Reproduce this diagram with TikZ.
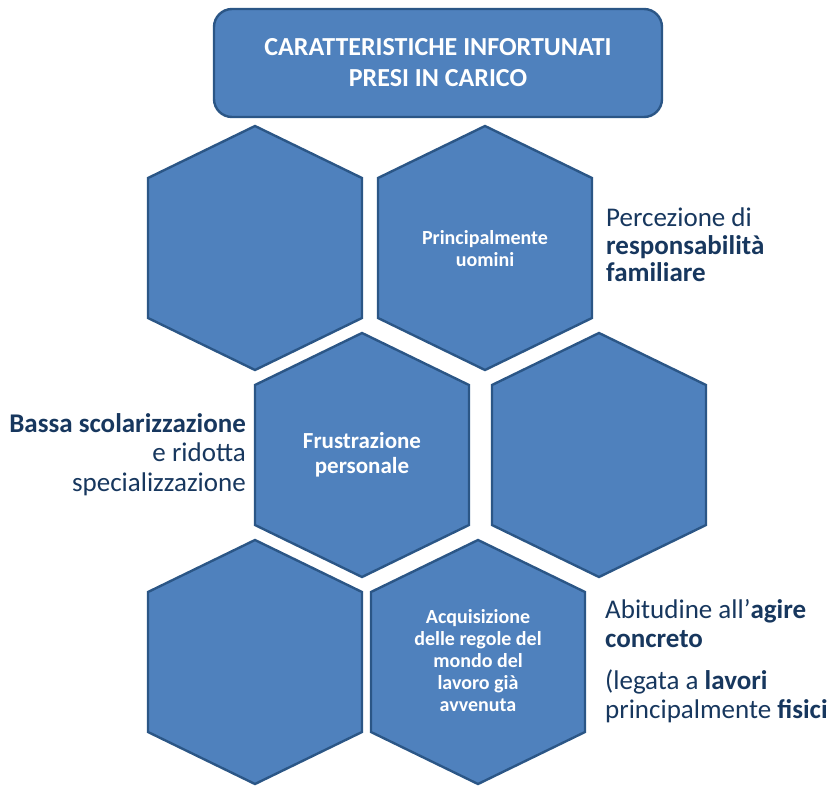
\documentclass[tikz,border=0pt]{standalone}
\usepackage{fontspec}
\setmainfont{Carlito}
\usepackage{xcolor}
\usepackage{tikz}
\usetikzlibrary{positioning}
\definecolor{cell}{HTML}{4F81BD}
\definecolor{celledge}{HTML}{2B5686}
\definecolor{ink}{HTML}{17375E}
\tikzset{
  hexshape/.style={draw=celledge, fill=cell, line width=2.4pt, line join=miter},
  hexcell/.pic={\path[hexshape] (0,-122) -- (107,-70) -- (107,70) -- (0,122)
                -- (-107,70) -- (-107,-70) -- cycle;},
  titlebox/.style={draw=celledge, fill=cell, line width=2.4pt, rounded corners=18pt,
                   minimum width=448pt, minimum height=108pt, align=center,
                   text=white, font=\fontsize{26}{31}\selectfont\bfseries},
  hexlbl/.style={text=white, align=center, inner sep=0pt},
  side/.style={text=ink, inner sep=0pt, font=\fontsize{27}{29.5}\selectfont},
}

\begin{document}
\begin{tikzpicture}[x=1pt, y=-1pt]
\useasboundingbox (0,0) rectangle (833,785);

% ---- TITLE ----
\node[titlebox] (title) at (438,63) {CARATTERISTICHE INFORTUNATI\\PRESI IN CARICO};

% ---- ROW 1 ----
\pic at (255,248) {hexcell};
\pic at (485,248) {hexcell};
\node[hexlbl, font=\fontsize{20}{22}\selectfont\bfseries] (uomini) at (485,249)
  {Principalmente\\uomini};

% ---- ROW 2 ----
\pic at (362,455) {hexcell};
\pic at (599,455) {hexcell};
\node[hexlbl, font=\fontsize{23}{25}\selectfont\bfseries] (frustr) at (362,455)
  {Frustrazione\\personale};

% ---- ROW 3 ----
\pic at (255,662) {hexcell};
\pic at (478,662) {hexcell};
\node[hexlbl, font=\fontsize{20}{22}\selectfont\bfseries] (regole) at (478,661)
  {Acquisizione\\delle regole del\\mondo del\\lavoro già\\avvenuta};

% ---- side notes ----
\node[side, align=left, anchor=north west, font=\fontsize{27}{27.5}\selectfont]
  (famiglia) at (606,208)
  {Percezione di\\\textbf{responsabilità}\\\textbf{familiare}};
\node[side, align=right, anchor=north east] (scuola) at (246,413)
  {\textbf{Bassa scolarizzazione}\\e ridotta\\specializzazione};
\node[side, align=left, anchor=north west] (concreto) at (605,599)
  {Abitudine all’\textbf{agire}\\\textbf{concreto}\\[12pt]
   (legata a \textbf{lavori}\\principalmente \textbf{fisici}};

\end{tikzpicture}
\end{document}
